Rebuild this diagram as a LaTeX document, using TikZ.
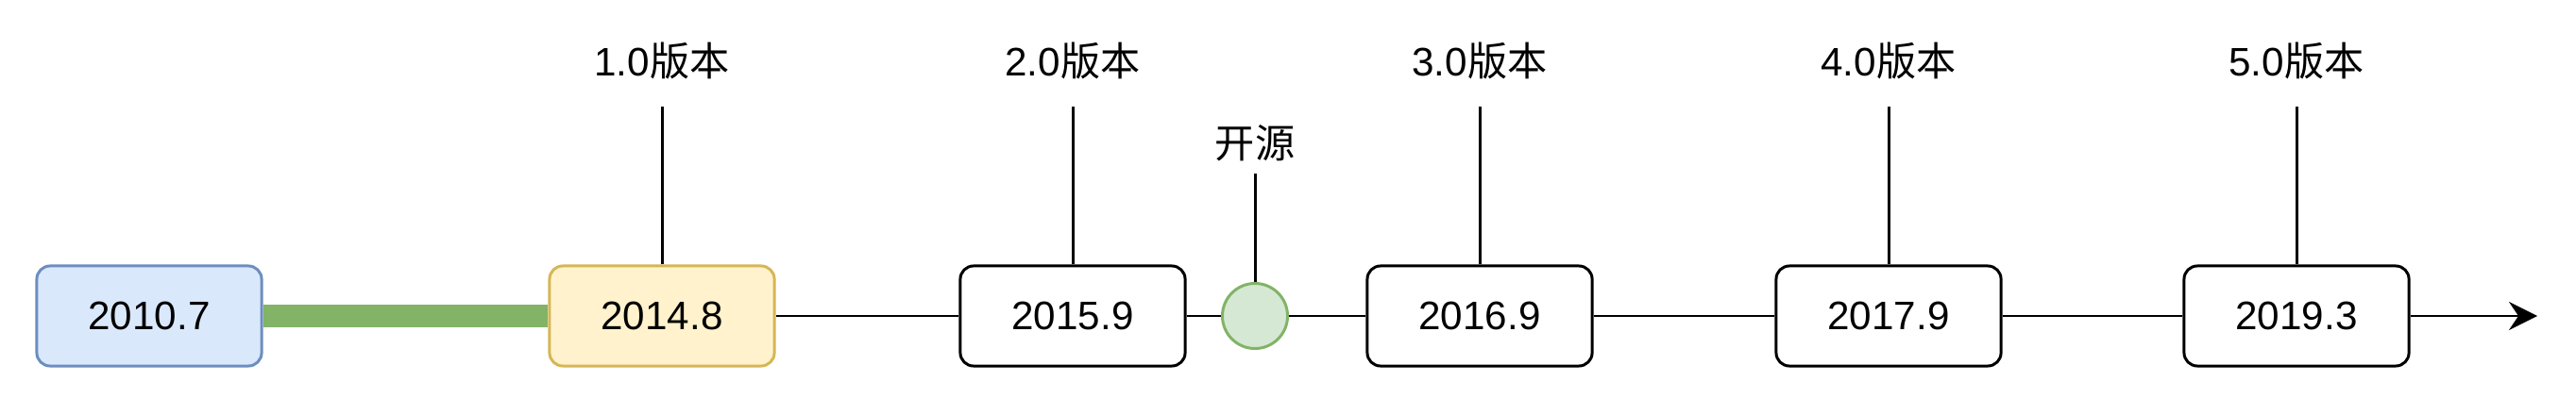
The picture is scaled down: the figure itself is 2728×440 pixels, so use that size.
\documentclass[tikz,border=0pt]{standalone}
\usepackage{fontspec}
\setmainfont{Liberation Sans}
\newfontfamily\cjk{Noto Sans CJK SC}
\usetikzlibrary{arrows.meta}
\definecolor{blueFill}{HTML}{DAE8FC}
\definecolor{blueLine}{HTML}{6C8EBF}
\definecolor{yellowFill}{HTML}{FFF2CC}
\definecolor{yellowLine}{HTML}{D6B656}
\definecolor{greenFill}{HTML}{D5E8D4}
\definecolor{greenLine}{HTML}{82B366}

\begin{document}
\begin{tikzpicture}[x=0.01cm,y=-0.01cm,line width=0.85pt,
    font=\fontsize{12}{14}\selectfont,
    >={Stealth[length=0.3cm,width=0.3cm,inset=0.1cm]},
    datebox/.style={draw,rounded corners=0.14cm,minimum width=2.38cm,minimum height=1.06cm,inner sep=0pt},
    opendot/.style={circle,draw=greenLine,fill=greenFill,minimum size=0.69cm,inner sep=0pt}]
  \useasboundingbox (0,0) rectangle (2728,440);
  % dates on the time line
  \node[datebox,draw=blueLine,fill=blueFill] (d2010) at (158,335) {2010.7};
  \node[datebox,draw=yellowLine,fill=yellowFill] (d2014) at (701,335) {2014.8};
  \node[datebox] (d2015) at (1136,335) {2015.9};
  \node[opendot] (open) at (1329,335) {};
  \node[datebox] (d2016) at (1567,335) {2016.9};
  \node[datebox] (d2017) at (2000,335) {2017.9};
  \node[datebox] (d2019) at (2432,335) {2019.3};
  \coordinate (tip) at (2687,335);
  \draw[greenLine,line width=0.24cm] (d2010) -- (d2014);
  \draw (d2014) -- (d2015) -- (open) -- (d2016) -- (d2017) -- (d2019);
  \draw[->] (d2019) -- (tip);
  % versions
  \coordinate (vlabel) at (0,65);
  \coordinate (vend) at (0,113);
  \foreach \d/\v in {d2014/1.0,d2015/2.0,d2016/3.0,d2017/4.0,d2019/5.0}{
    \coordinate (e\d) at (\d.north |- vend);
    \node (v\d) at (\d.north |- vlabel) {\v{\cjk 版本}};
    \draw (\d.north) -- (e\d);
  }
  \coordinate (eopen) at (1329,184);
  \node (lopen) at (1329,152) {\cjk 开源};
  \draw (open) -- (eopen);
\end{tikzpicture}
\end{document}
